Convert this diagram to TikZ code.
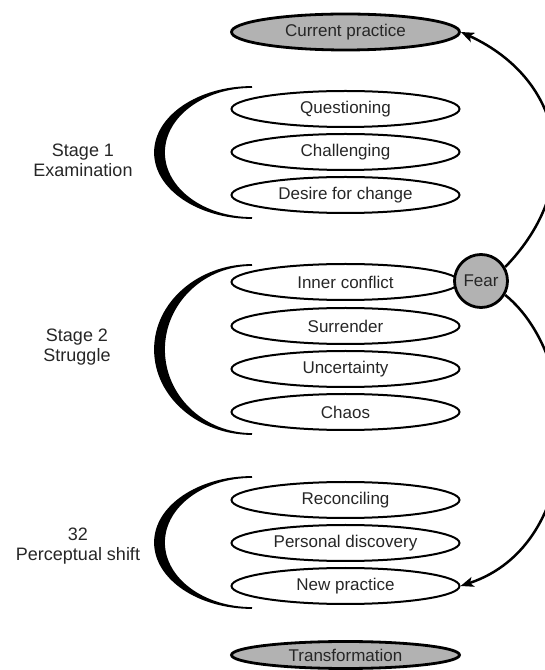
\documentclass[tikz,border=0pt]{standalone}
\usepackage{fontspec}
\setmainfont{Liberation Sans}
\usetikzlibrary{arrows.meta, shapes.geometric}

\begin{document}
\begin{tikzpicture}[x=1pt, y=1pt,
    lens/.style={ellipse, draw=black, line width=2pt, minimum width=228pt, minimum height=36pt, inner sep=0pt, text=black!85, font=\fontsize{17}{20}\selectfont},
    endlens/.style={lens, fill=gray!60, line width=2.8pt},
    stagelabel/.style={align=center, text=black!85, font=\fontsize{18}{20}\selectfont},
    flow/.style={draw=black, line width=2.5pt, -{Stealth[length=13pt, width=10pt, inset=3pt]}}]
  \useasboundingbox (0,0) rectangle (545,670);
  \node[endlens] (current) at (345.5,638) {Current practice};
  \node[lens] (question) at (345.5,561) {Questioning};
  \node[lens] (challenge) at (345.5,518) {Challenging};
  \node[lens] (desire) at (345.5,475) {Desire for change};
  \node[lens] (inner) at (345.5,388) {Inner conflict};
  \node[lens] (surrender) at (345.5,344) {Surrender};
  \node[lens] (uncertain) at (345.5,301) {Uncertainty};
  \node[lens] (chaos) at (345.5,258) {Chaos};
  \node[lens] (reconcile) at (345.5,170) {Reconciling};
  \node[lens] (discovery) at (345.5,127) {Personal discovery};
  \node[lens] (newpractice) at (345.5,84) {New practice};
  \node[endlens, minimum height=27pt] (transform) at (345.5,15) {Transformation};
  \node[circle, draw=black, fill=gray!60, line width=2.8pt, minimum size=53pt, inner sep=0pt, text=black!85, font=\fontsize{17}{20}\selectfont] (fear) at (481,389) {Fear};
  \node[stagelabel] (stageone) at (83,510) {Stage 1\\Examination};
  \node[stagelabel] (stagetwo) at (77,323) {Stage 2\\Struggle};
  \node[stagelabel] (stagethree) at (78,124) {32\\Perceptual shift};
  \foreach \t/\b in {583/452, 405/236, 193/62}
    \filldraw[line width=1.8pt] (252,\t) arc[start angle=90, end angle=270, x radius=97, y radius={(\t-\b)/2}] arc[start angle=270, end angle=90, x radius=88, y radius={(\t-\b)/2}] -- cycle;
  \draw[flow] (fear.30) .. controls (585,485) and (565,590) .. (current.east);
  \draw[flow] (fear.-30) .. controls (585,310) and (585,125) .. (newpractice.east);
\end{tikzpicture}
\end{document}
